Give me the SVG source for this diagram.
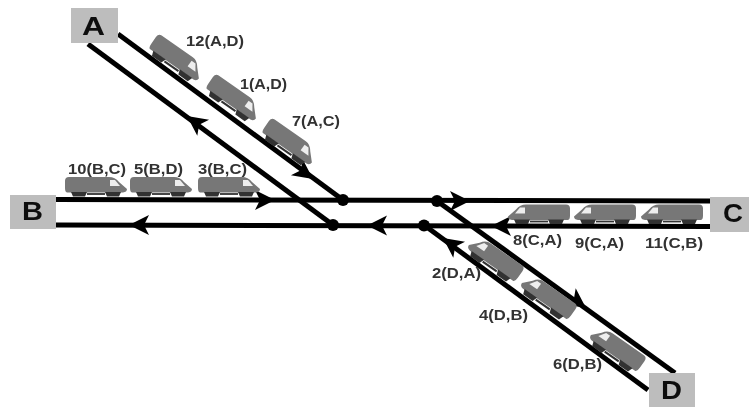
<svg xmlns="http://www.w3.org/2000/svg" width="749" height="407" viewBox="0 0 749 407">
<style>
.track{stroke:#000;stroke-width:5;fill:none}
.box{fill:#bdbdbd}
.big{font:bold 26px "Liberation Sans",Arial,sans-serif;fill:#111}
.lab{font:bold 14.5px "Liberation Sans",Arial,sans-serif;fill:#333}
</style>
<defs>
<filter id="soft" x="-2%" y="-2%" width="104%" height="104%"><feGaussianBlur stdDeviation="0.6"/></filter>
<path id="arrow" d="M0,0 L-20,-10 L-15,0 L-20,10 Z" fill="#000"/>
<g id="train">
<path d="M0,4 Q0,0 4,0 L44,0 Q50,0 54,5 L62,12 Q62,15 58,15.5 L2,15.5 Q0,15 0,11 Z" fill="#777"/>
<path d="M45,3 L50,3 L55,9 L45,9 Z" fill="#eee"/>
<path d="M6,15 h16 l-2,4.5 h-12 Z M40,15 h16 l-2,4.5 h-12 Z" fill="#333"/>
<path d="M22,17 h18" stroke="#333" stroke-width="1.8"/>
</g>
</defs>
<g filter="url(#soft)">
<g id="connectors">
<path class="track" d="M118,34 L343,200"/>
<path class="track" d="M88,44 L333,225"/>
<path class="track" d="M56,199.5 L710,201"/>
<path class="track" d="M56,225 L710,226.5"/>
<path class="track" d="M437,201 L675,373"/>
<path class="track" d="M424,225 L648,390"/>
<circle cx="343" cy="200" r="6"/>
<circle cx="333" cy="225" r="6"/>
<circle cx="437" cy="201" r="6"/>
<circle cx="424" cy="225.5" r="6"/>
<use href="#arrow" transform="translate(313,179) rotate(36)"/>
<use href="#arrow" transform="translate(187,116) rotate(216)"/>
<use href="#arrow" transform="translate(275,200)"/>
<use href="#arrow" transform="translate(129,225) rotate(180)"/>
<use href="#arrow" transform="translate(367,225.5) rotate(180)"/>
<use href="#arrow" transform="translate(470,201)"/>
<use href="#arrow" transform="translate(491,226) rotate(180)"/>
<use href="#arrow" transform="translate(586,308) rotate(36)"/>
<use href="#arrow" transform="translate(443,238) rotate(216)"/>
</g>
<g id="node-A"><rect class="box" x="71" y="8" width="47" height="35"/><text class="big" x="82" y="35" textLength="23" lengthAdjust="spacingAndGlyphs">A</text></g>
<g id="node-B"><rect class="box" x="10" y="195" width="46" height="34"/><text class="big" x="22" y="220" textLength="21" lengthAdjust="spacingAndGlyphs">B</text></g>
<g id="node-C"><rect class="box" x="710" y="197" width="39" height="35"/><text class="big" x="723" y="222" textLength="20" lengthAdjust="spacingAndGlyphs">C</text></g>
<g id="node-D"><rect class="box" x="649" y="373" width="46" height="34"/><text class="big" x="661" y="399" textLength="21" lengthAdjust="spacingAndGlyphs">D</text></g>
<g id="train-12"><use href="#train" transform="translate(176,59) rotate(35) translate(-29,-11) scale(.95,1.15)"/><text class="lab" x="186" y="46" textLength="58" lengthAdjust="spacingAndGlyphs">12(A,D)</text></g>
<g id="train-1"><use href="#train" transform="translate(233,99) rotate(35) translate(-29,-11) scale(.95,1.15)"/><text class="lab" x="240" y="89" textLength="47" lengthAdjust="spacingAndGlyphs">1(A,D)</text></g>
<g id="train-7"><use href="#train" transform="translate(289,143) rotate(35) translate(-29,-11) scale(.95,1.15)"/><text class="lab" x="292" y="126" textLength="48" lengthAdjust="spacingAndGlyphs">7(A,C)</text></g>
<g id="train-10"><use href="#train" transform="translate(65,177)"/><text class="lab" x="68" y="174" textLength="58" lengthAdjust="spacingAndGlyphs">10(B,C)</text></g>
<g id="train-5"><use href="#train" transform="translate(130,177)"/><text class="lab" x="134" y="174" textLength="49" lengthAdjust="spacingAndGlyphs">5(B,D)</text></g>
<g id="train-3"><use href="#train" transform="translate(198,177)"/><text class="lab" x="198" y="174" textLength="49" lengthAdjust="spacingAndGlyphs">3(B,C)</text></g>
<g id="train-8"><use href="#train" transform="translate(570,204.5) scale(-1,1)"/><text class="lab" x="513" y="245" textLength="49" lengthAdjust="spacingAndGlyphs">8(C,A)</text></g>
<g id="train-9"><use href="#train" transform="translate(636,204.5) scale(-1,1)"/><text class="lab" x="575" y="248" textLength="49" lengthAdjust="spacingAndGlyphs">9(C,A)</text></g>
<g id="train-11"><use href="#train" transform="translate(703,204.5) scale(-1,1)"/><text class="lab" x="645" y="248" textLength="58" lengthAdjust="spacingAndGlyphs">11(C,B)</text></g>
<g id="train-2"><use href="#train" transform="translate(495,259) rotate(35) scale(-.95,1.15) translate(-31,-9)"/><text class="lab" x="432" y="278" textLength="49" lengthAdjust="spacingAndGlyphs">2(D,A)</text></g>
<g id="train-4"><use href="#train" transform="translate(548,297) rotate(35) scale(-.95,1.15) translate(-31,-9)"/><text class="lab" x="479" y="320" textLength="49" lengthAdjust="spacingAndGlyphs">4(D,B)</text></g>
<g id="train-6"><use href="#train" transform="translate(617,349) rotate(35) scale(-.95,1.15) translate(-31,-9)"/><text class="lab" x="553" y="369" textLength="49" lengthAdjust="spacingAndGlyphs">6(D,B)</text></g>
</g>
</svg>
